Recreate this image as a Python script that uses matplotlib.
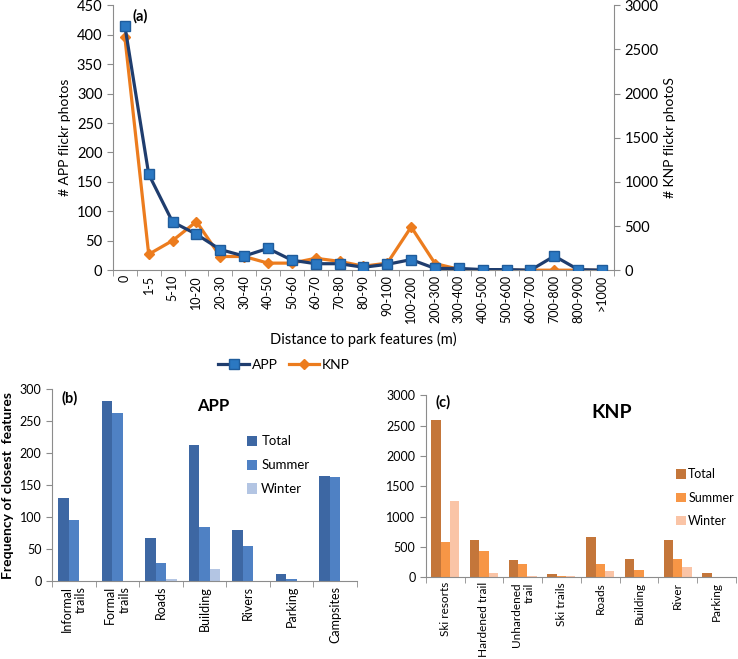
import matplotlib.pyplot as plt
import numpy as np

plt.rcParams['font.family'] = ['Lato', 'DejaVu Sans']

# (a) distance classes
dist = ["0", "1-5", "5-10", "10-20", "20-30", "30-40", "40-50", "50-60", "60-70",
        "70-80", "80-90", "90-100", "100-200", "200-300", "300-400", "400-500",
        "500-600", "600-700", "700-800", "800-900", ">1000"]
app_photos = [415, 163, 82, 61, 35, 24, 37, 17, 11, 11, 5, 10, 18, 3, 3, 1, 1, 0, 24, 1, 0]
knp_photos = [2640, 180, 335, 550, 155, 155, 80, 80, 135, 100, 45, 80, 490, 75, 10, 0, 0, 0, 0, 0, 0]

# (b) APP closest features
app_feat = ["Informal\ntrails", "Formal\ntrails", "Roads", "Building", "Rivers", "Parking", "Campsites"]
app_total = [130, 281, 67, 212, 80, 12, 164]
app_summer = [95, 262, 28, 85, 55, 3, 162]
app_winter = [1, 1, 3, 19, 1, 0, 0]

# (c) KNP closest features
knp_feat = ["Ski resorts", "Hardened trail", "Unhardened\ntrail", "Ski trails", "Roads",
            "Building", "River", "Parking"]
knp_total = [2600, 620, 290, 50, 670, 305, 620, 65]
knp_summer = [590, 430, 225, 20, 225, 115, 305, 0]
knp_winter = [1260, 70, 15, 15, 100, 0, 165, 0]

gray = "#8c8c8c"
fig = plt.figure(figsize=(7.38, 6.59), dpi=100)


def excel_axes(ax, n):
    for s in ["top", "right"]:
        ax.spines[s].set_visible(False)
    for s in ["left", "bottom"]:
        ax.spines[s].set_color(gray)
    ax.set_xlim(-0.5, n - 0.5)
    ax.set_xticks(np.arange(n))
    ax.set_xticks(np.arange(n + 1) - 0.5, minor=True)
    ax.tick_params(axis="x", which="major", length=0)
    ax.tick_params(axis="x", which="minor", length=4, color=gray, direction="out")
    ax.tick_params(axis="y", length=4, color=gray, direction="out")


# ---- (a) line chart
ax = fig.add_axes([0.153, 0.59, 0.679, 0.402])
ax2 = ax.twinx()
x = np.arange(len(dist))
l1, = ax.plot(x, app_photos, color="#1f3d6e", lw=2.3, marker="s", ms=7.5,
              mfc="#2b78c2", mec="#1f5c9c", label="APP", zorder=3)
l2, = ax2.plot(x, knp_photos, color="#ec7c1e", lw=2.3, marker="D", ms=5,
               mfc="#ec7c1e", mec="#ec7c1e", label="KNP", zorder=2)
excel_axes(ax, len(dist))
ax.spines["right"].set_visible(False)
ax2.spines["top"].set_visible(False)
ax2.spines["left"].set_visible(False)
ax2.spines["bottom"].set_visible(False)
ax2.spines["right"].set_color(gray)
ax.set_ylim(0, 450)
ax.set_yticks(np.arange(0, 451, 50))
ax2.set_ylim(0, 3000)
ax2.set_yticks(np.arange(0, 3001, 500))
ax2.tick_params(axis="y", length=4, color=gray, direction="out", labelsize=10.5)
ax.set_xticklabels(dist, rotation=90, fontsize=9)
ax.tick_params(axis="y", labelsize=10.5)
ax.set_ylabel("# APP flickr photos", fontsize=10)
ax2.set_ylabel("# KNP flickr photoS", fontsize=10)
ax.set_xlabel("Distance to park features (m)", fontsize=10.5, labelpad=6)
ax.text(0.04, 0.985, "(a)", transform=ax.transAxes, fontsize=10.5, fontweight="bold",
        va="top")
ax.set_zorder(ax2.get_zorder() + 1)
ax.patch.set_visible(False)
fig.legend([l1, l2], ["APP", "KNP"], loc="center", bbox_to_anchor=(0.385, 0.446),
           ncol=2, frameon=False, fontsize=10, handlelength=2.2, columnspacing=0.8,
           handletextpad=0.2)


def grouped(ax, cats, series, colors, ylim, step, fs):
    n = len(cats)
    xx = np.arange(n)
    w = 0.24
    bars = []
    for k, (vals, c) in enumerate(zip(series, colors)):
        bars.append(ax.bar(xx + (k - 1) * w, vals, w, color=c, zorder=2))
    excel_axes(ax, n)
    ax.set_ylim(0, ylim)
    ax.set_yticks(np.arange(0, ylim + 1, step))
    ax.set_xticklabels(cats, rotation=90, fontsize=fs, va="top", ha="center",
                       multialignment="right")
    ax.tick_params(axis="y", labelsize=9)
    return bars


# ---- (b) APP bars
axb = fig.add_axes([0.0705, 0.118, 0.413, 0.292])
bb = grouped(axb, app_feat, [app_total, app_summer, app_winter],
             ["#3d67a3", "#4f81c4", "#b3c5e3"], 300, 50, 9)
axb.set_ylabel("Frequency of closest  features", fontsize=10, fontweight="bold")
axb.text(0.03, 0.99, "(b)", transform=axb.transAxes, fontsize=10.5, fontweight="bold",
         va="top")
axb.text(0.53, 0.95, "APP", transform=axb.transAxes, fontsize=12, fontweight="bold",
         ha="center", va="top")
axb.legend(bb, ["Total", "Summer", "Winter"], loc="upper left",
           bbox_to_anchor=(0.6, 0.82), frameon=False, fontsize=9.5,
           handlelength=0.8, handleheight=0.8, labelspacing=0.9, handletextpad=0.3)

# ---- (c) KNP bars
axc = fig.add_axes([0.577, 0.124, 0.42, 0.276])
bc = grouped(axc, knp_feat, [knp_total, knp_summer, knp_winter],
             ["#c4763a", "#f79646", "#fac4a6"], 3000, 500, 8.5)
axc.text(0.03, 1.0, "(c)", transform=axc.transAxes, fontsize=10.5, fontweight="bold",
         va="top")
axc.text(0.6, 0.95, "KNP", transform=axc.transAxes, fontsize=14, fontweight="bold",
         ha="center", va="top")
axc.legend(bc, ["Total", "Summer", "Winter"], loc="upper left",
           bbox_to_anchor=(0.77, 0.66), frameon=False, fontsize=9,
           handlelength=0.8, handleheight=0.8, labelspacing=0.9, handletextpad=0.2)

fig.savefig("out.png", dpi=100)
